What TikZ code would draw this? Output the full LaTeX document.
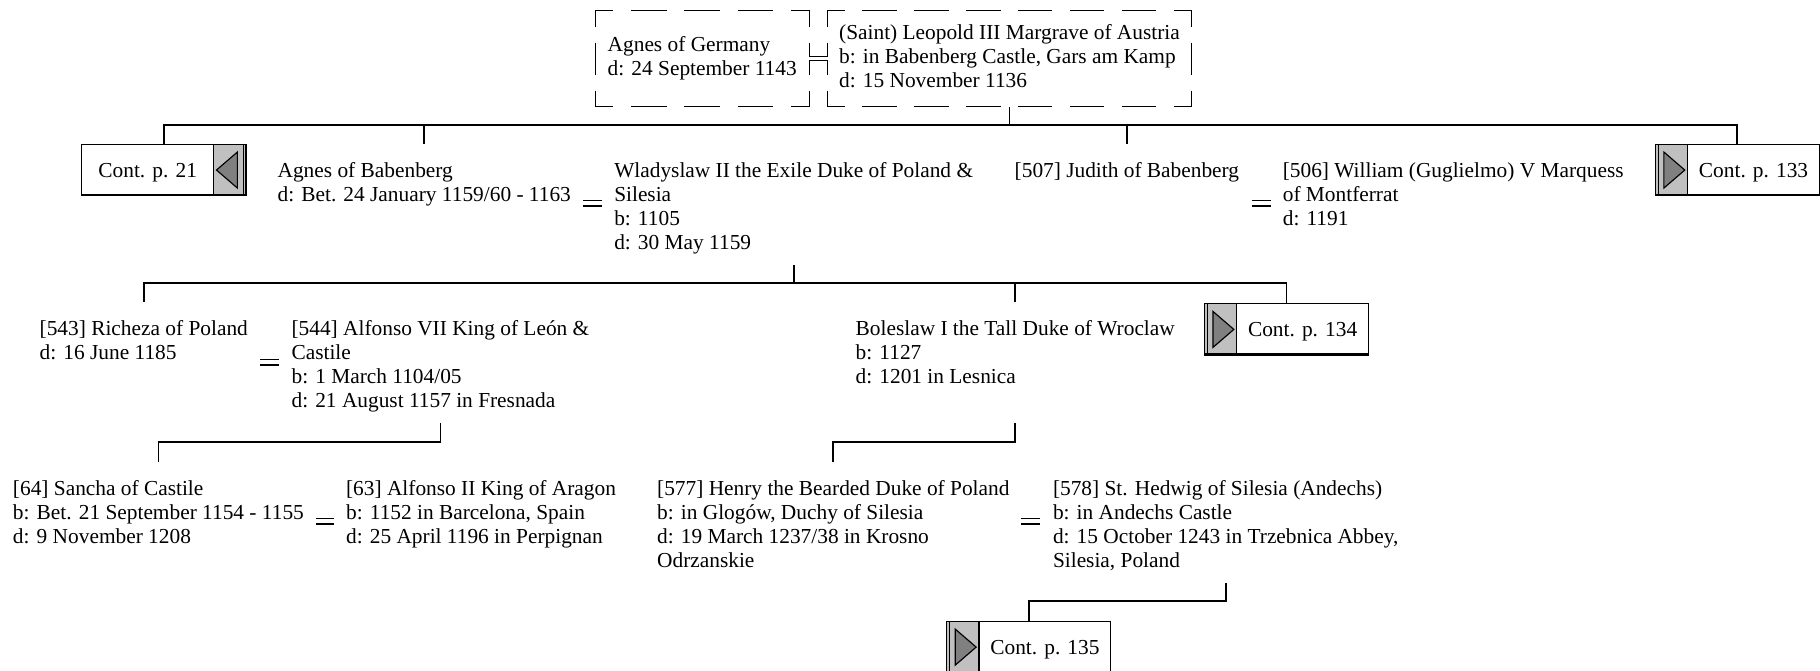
\documentclass[tikz,border=0pt]{standalone}
\usepackage{fontspec}
\setmainfont{Liberation Serif}
\definecolor{contgray}{HTML}{C0C0C0}
\definecolor{tridark}{HTML}{808080}
\tikzset{
  wed/.pic={\draw[line width=1.3pt] (-8,-2.3) -- (8,-2.3) (-8,2.3) -- (8,2.3);},
}
\begin{document}
\begin{tikzpicture}[x=1pt,y=-1pt,
  every node/.style={font=\fontsize{18.4}{20.6}\selectfont},
  person/.style={anchor=north west, inner sep=0pt, align=left},
  dashbox/.style={inner xsep=10pt, inner ysep=0pt, outer sep=0pt,
                  minimum height=83pt, align=left, anchor=north west},
  frameline/.style={line width=0.9pt},
  hdashA/.style={frameline, dash pattern=on 30.67pt off 15.33pt, dash phase=15.33pt},
  hdashB/.style={frameline, dash pattern=on 29.81pt off 14.9pt, dash phase=14.9pt},
  vdash/.style={frameline, dash pattern=on 27.67pt off 13.83pt, dash phase=13.83pt},
  link/.style={line width=1.5pt},
  contbox/.style={draw, line width=1pt, fill=white, minimum width=141.5pt, minimum height=44pt,
                  inner sep=0pt, anchor=north west, text height=12.5pt, text depth=0pt},
  grayleft/.style={contbox, path picture={
     \fill[contgray] (path picture bounding box.north west) rectangle ([xshift=28pt]path picture bounding box.south west);
     \draw[line width=1pt] ([xshift=28pt]path picture bounding box.north west) -- ([xshift=28pt]path picture bounding box.south west);
     \filldraw[fill=tridark, line width=1pt] ([xshift=7.5pt,yshift=-6.5pt]path picture bounding box.north west)
        -- ([xshift=25.5pt]path picture bounding box.west)
        -- ([xshift=7.5pt,yshift=6.5pt]path picture bounding box.south west) -- cycle;
     \draw[line width=1pt] ([xshift=2.5pt]path picture bounding box.north west)
        -- ([xshift=2.5pt]path picture bounding box.south west);
     \draw[line width=3pt] (path picture bounding box.south west) -- (path picture bounding box.south east);
  }},
  grayright/.style={contbox, path picture={
     \fill[contgray] (path picture bounding box.north east) rectangle ([xshift=-28pt]path picture bounding box.south east);
     \draw[line width=1pt] ([xshift=-28pt]path picture bounding box.north east) -- ([xshift=-28pt]path picture bounding box.south east);
     \filldraw[fill=tridark, line width=1pt] ([xshift=-7.5pt,yshift=-6.5pt]path picture bounding box.north east)
        -- ([xshift=-25.5pt]path picture bounding box.east)
        -- ([xshift=-7.5pt,yshift=6.5pt]path picture bounding box.south east) -- cycle;
     \draw[line width=1pt] ([xshift=-2.5pt]path picture bounding box.north east)
        -- ([xshift=-2.5pt]path picture bounding box.south east);
     \draw[line width=3pt] (path picture bounding box.south west) -- (path picture bounding box.south east);
  }},
]
\useasboundingbox (0,0) rectangle (1568,578);

% ---------- generation 0 ----------
\node[dashbox, minimum width=184pt] (agnesg) at (513,9) {\strut Agnes of Germany\\d: 24 September 1143\strut};
\node[dashbox, minimum width=313pt] (leo) at (713,9) {\strut (Saint) Leopold III Margrave of Austria\\b: in Babenberg Castle, Gars am Kamp\\d: 15 November 1136\strut};
\draw[hdashA] (agnesg.north west) -- (agnesg.north east);
\draw[hdashA] (agnesg.south west) -- (agnesg.south east);
\draw[vdash] (agnesg.north west) -- (agnesg.south west);
\draw[vdash] (agnesg.north east) -- (agnesg.south east);
\draw[hdashB] (leo.north west) -- (leo.north east);
\draw[hdashB] (leo.south west) -- (leo.south east);
\draw[vdash] (leo.north west) -- (leo.south west);
\draw[vdash] (leo.north east) -- (leo.south east);
\draw[line width=0.9pt, double, double distance=2pt] (agnesg.east) -- (leo.west);

% ---------- generation 1 ----------
\node[grayright] (c21) at (70,124) {Cont. p. 21\hspace*{28pt}};
\node[person] (agnesb) at (239,138.4) {\strut Agnes of Babenberg\\d: Bet. 24 January 1159/60 - 1163\strut};
\node[person] (wlad) at (529,138.4) {\strut Wladyslaw II the Exile Duke of Poland \&\\Silesia\\b: 1105\\d: 30 May 1159\strut};
\node[person] (judith) at (874,138.4) {\strut [507] Judith of Babenberg\strut};
\node[person] (william) at (1105,138.4) {\strut [506] William (Guglielmo) V Marquess\\of Montferrat\\d: 1191\strut};
\node[grayleft] (c133) at (1425.5,124) {\hspace*{28pt}Cont. p. 133};
\pic at (510.5,175) {wed};
\pic at (1087,175) {wed};

\coordinate (bar0) at (0,107.5);
\coordinate (agnesbT) at ([yshift=14.4pt]agnesb.north);
\coordinate (judithT) at ([yshift=14.4pt]judith.north);
\draw[link] (leo.south) -- (leo.south |- bar0);
\draw[link] (c21.north) -- (c21.north |- bar0) -- (c133.north |- bar0) -- (c133.north);
\draw[link] (agnesbT) -- (agnesbT |- bar0);
\draw[link] (judithT) -- (judithT |- bar0);

% ---------- generation 2 ----------
\node[person] (richeza) at (34,274.4) {\strut [543] Richeza of Poland\\d: 16 June 1185\strut};
\node[person] (alf7) at (251,274.4) {\strut [544] Alfonso VII King of León \&\\Castile\\b: 1 March 1104/05\\d: 21 August 1157 in Fresnada\strut};
\node[person] (bol) at (737,274.4) {\strut Boleslaw I the Tall Duke of Wroclaw\\b: 1127\\d: 1201 in Lesnica\strut};
\node[grayleft] (c134) at (1037,261.3) {\hspace*{28pt}Cont. p. 134};
\pic at (232,312) {wed};

\coordinate (bar1) at (0,243.5);
\coordinate (wladB) at ([yshift=-90pt]wlad.north);
\coordinate (richezaT) at ([yshift=14.4pt]richeza.north);
\coordinate (bolT) at ([yshift=14.4pt]bol.north);
\draw[link] (wladB) -- (wladB |- bar1);
\draw[link] (richezaT) -- (richezaT |- bar1) -- (c134.north |- bar1) -- (c134.north);
\draw[link] (bolT) -- (bolT |- bar1);

% ---------- generation 3 ----------
\node[person] (sancha) at (11,412.4) {\strut [64] Sancha of Castile\\b: Bet. 21 September 1154 - 1155\\d: 9 November 1208\strut};
\node[person] (alf2) at (298,412.4) {\strut [63] Alfonso II King of Aragon\\b: 1152 in Barcelona, Spain\\d: 25 April 1196 in Perpignan\strut};
\node[person] (henry) at (566,412.4) {\strut [577] Henry the Bearded Duke of Poland\\b: in Glogów, Duchy of Silesia\\d: 19 March 1237/38 in Krosno\\Odrzanskie\strut};
\node[person] (hedwig) at (907,412.4) {\strut [578] St. Hedwig of Silesia (Andechs)\\b: in Andechs Castle\\d: 15 October 1243 in Trzebnica Abbey,\\Silesia, Poland\strut};
\pic at (280,449) {wed};
\pic at (888,449) {wed};

\coordinate (bar2) at (0,381);
\coordinate (alf7B) at ([yshift=-90pt]alf7.north);
\coordinate (bolB) at ([yshift=-90pt]bol.north);
\coordinate (sanchaT) at ([yshift=14.4pt]sancha.north);
\coordinate (henryT) at ([yshift=14.4pt]henry.north);
\draw[link] (alf7B) -- (alf7B |- bar2) -- (sanchaT |- bar2) -- (sanchaT);
\draw[link] (bolB) -- (bolB |- bar2) -- (henryT |- bar2) -- (henryT);

% ---------- continuation ----------
\node[grayleft] (c135) at (815,535) {\hspace*{28pt}Cont. p. 135};
\coordinate (bar3) at (0,518);
\coordinate (hedwigB) at ([yshift=-90pt]hedwig.north);
\draw[link] (hedwigB) -- (hedwigB |- bar3) -- (c135.north |- bar3) -- (c135.north);
\end{tikzpicture}
\end{document}
